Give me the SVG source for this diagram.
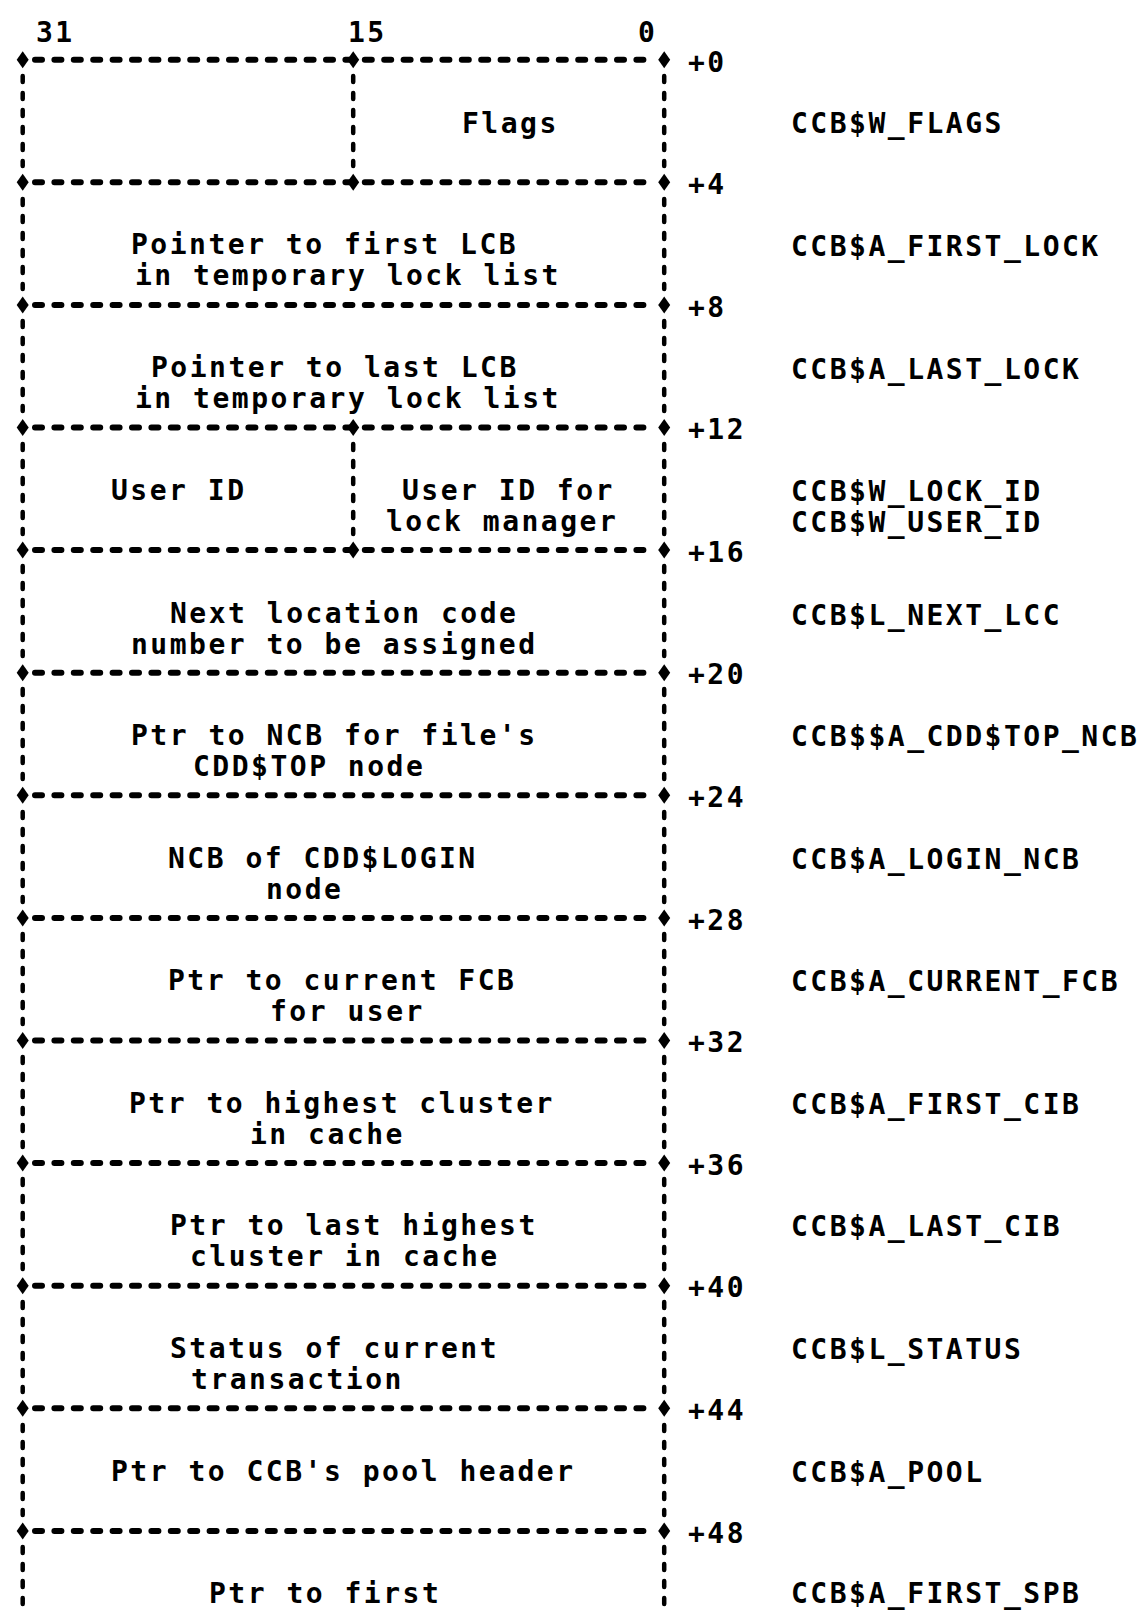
<svg xmlns="http://www.w3.org/2000/svg" width="1141" height="1614" viewBox="0 0 1141 1614">
<defs>
<style>
text{font-family:"DejaVu Sans Mono","Liberation Mono",monospace;font-weight:bold;font-size:28px;letter-spacing:2.5px;fill:#000}
.h{stroke:#000;stroke-width:6;stroke-dasharray:7 12.4;stroke-linecap:round;fill:none}
.v{stroke:#000;stroke-width:4.5;stroke-dasharray:6 11;stroke-linecap:round;fill:none}
.d{fill:#000}
</style>
<polygon id="dia" class="d" points="0,-8.5 6,0 0,8.5 -6,0"/>
</defs>
<rect width="1141" height="1614" fill="#fff"/>
<g id="bits">
<text x="36" y="42">31</text>
<text x="348" y="42">15</text>
<text x="638" y="42">0</text>
</g>
<g id="grid">
<path class="h" d="M35,59.7H652 M35,182.3H652 M35,304.9H652 M35,427.5H652 M35,550.1H652 M35,672.7H652 M35,795.3H652 M35,917.9H652 M35,1040.5H652 M35,1163.1H652 M35,1285.7H652 M35,1408.3H652 M35,1530.9H652"/>
<path class="v" d="M22.7,76V166 M22.7,199V289 M22.7,321V411 M22.7,444V534 M22.7,566V656 M22.7,689V779 M22.7,812V902 M22.7,934V1024 M22.7,1057V1147 M22.7,1179V1269 M22.7,1302V1392 M22.7,1425V1515 M22.7,1547V1614 M664.2,76V166 M664.2,199V289 M664.2,321V411 M664.2,444V534 M664.2,566V656 M664.2,689V779 M664.2,812V902 M664.2,934V1024 M664.2,1057V1147 M664.2,1179V1269 M664.2,1302V1392 M664.2,1425V1515 M664.2,1547V1614 M353.2,76V166 M353.2,444V534"/>
<use href="#dia" x="22.7" y="59.7"/><use href="#dia" x="353.2" y="59.7"/><use href="#dia" x="664.2" y="59.7"/>
<use href="#dia" x="22.7" y="182.3"/><use href="#dia" x="353.2" y="182.3"/><use href="#dia" x="664.2" y="182.3"/>
<use href="#dia" x="22.7" y="304.9"/><use href="#dia" x="664.2" y="304.9"/>
<use href="#dia" x="22.7" y="427.5"/><use href="#dia" x="353.2" y="427.5"/><use href="#dia" x="664.2" y="427.5"/>
<use href="#dia" x="22.7" y="550.1"/><use href="#dia" x="353.2" y="550.1"/><use href="#dia" x="664.2" y="550.1"/>
<use href="#dia" x="22.7" y="672.7"/><use href="#dia" x="664.2" y="672.7"/>
<use href="#dia" x="22.7" y="795.3"/><use href="#dia" x="664.2" y="795.3"/>
<use href="#dia" x="22.7" y="917.9"/><use href="#dia" x="664.2" y="917.9"/>
<use href="#dia" x="22.7" y="1040.5"/><use href="#dia" x="664.2" y="1040.5"/>
<use href="#dia" x="22.7" y="1163.1"/><use href="#dia" x="664.2" y="1163.1"/>
<use href="#dia" x="22.7" y="1285.7"/><use href="#dia" x="664.2" y="1285.7"/>
<use href="#dia" x="22.7" y="1408.3"/><use href="#dia" x="664.2" y="1408.3"/>
<use href="#dia" x="22.7" y="1530.9"/><use href="#dia" x="664.2" y="1530.9"/>
</g>
<g id="offsets">
<text x="688" y="72">+0</text>
<text x="688" y="194">+4</text>
<text x="688" y="317">+8</text>
<text x="688" y="439">+12</text>
<text x="688" y="562">+16</text>
<text x="688" y="684">+20</text>
<text x="688" y="807">+24</text>
<text x="688" y="930">+28</text>
<text x="688" y="1052">+32</text>
<text x="688" y="1175">+36</text>
<text x="688" y="1297">+40</text>
<text x="688" y="1420">+44</text>
<text x="688" y="1543">+48</text>
</g>
<g id="row0"><text x="462" y="133">Flags</text><text x="791" y="133">CCB$W_FLAGS</text></g>
<g id="row1"><text x="131" y="254">Pointer to first LCB</text><text x="135" y="285">in temporary lock list</text><text x="791" y="256">CCB$A_FIRST_LOCK</text></g>
<g id="row2"><text x="151" y="377">Pointer to last LCB</text><text x="135" y="408">in temporary lock list</text><text x="791" y="379">CCB$A_LAST_LOCK</text></g>
<g id="row3"><text x="111" y="500">User ID</text><text x="402" y="500">User ID for</text><text x="386" y="531">lock manager</text><text x="791" y="501">CCB$W_LOCK_ID</text><text x="791" y="532">CCB$W_USER_ID</text></g>
<g id="row4"><text x="170" y="623">Next location code</text><text x="131" y="654">number to be assigned</text><text x="791" y="625">CCB$L_NEXT_LCC</text></g>
<g id="row5"><text x="131" y="745">Ptr to NCB for file's</text><text x="193" y="776">CDD$TOP node</text><text x="791" y="746">CCB$$A_CDD$TOP_NCB</text></g>
<g id="row6"><text x="168" y="868">NCB of CDD$LOGIN</text><text x="266" y="899">node</text><text x="791" y="869">CCB$A_LOGIN_NCB</text></g>
<g id="row7"><text x="168" y="990">Ptr to current FCB</text><text x="270" y="1021">for user</text><text x="791" y="991">CCB$A_CURRENT_FCB</text></g>
<g id="row8"><text x="129" y="1113">Ptr to highest cluster</text><text x="250" y="1144">in cache</text><text x="791" y="1114">CCB$A_FIRST_CIB</text></g>
<g id="row9"><text x="170" y="1235">Ptr to last highest</text><text x="190" y="1266">cluster in cache</text><text x="791" y="1236">CCB$A_LAST_CIB</text></g>
<g id="row10"><text x="170" y="1358">Status of current</text><text x="191" y="1389">transaction</text><text x="791" y="1359">CCB$L_STATUS</text></g>
<g id="row11"><text x="111" y="1481">Ptr to CCB's pool header</text><text x="791" y="1482">CCB$A_POOL</text></g>
<g id="row12"><text x="209" y="1603">Ptr to first</text><text x="791" y="1603">CCB$A_FIRST_SPB</text></g>
</svg>
